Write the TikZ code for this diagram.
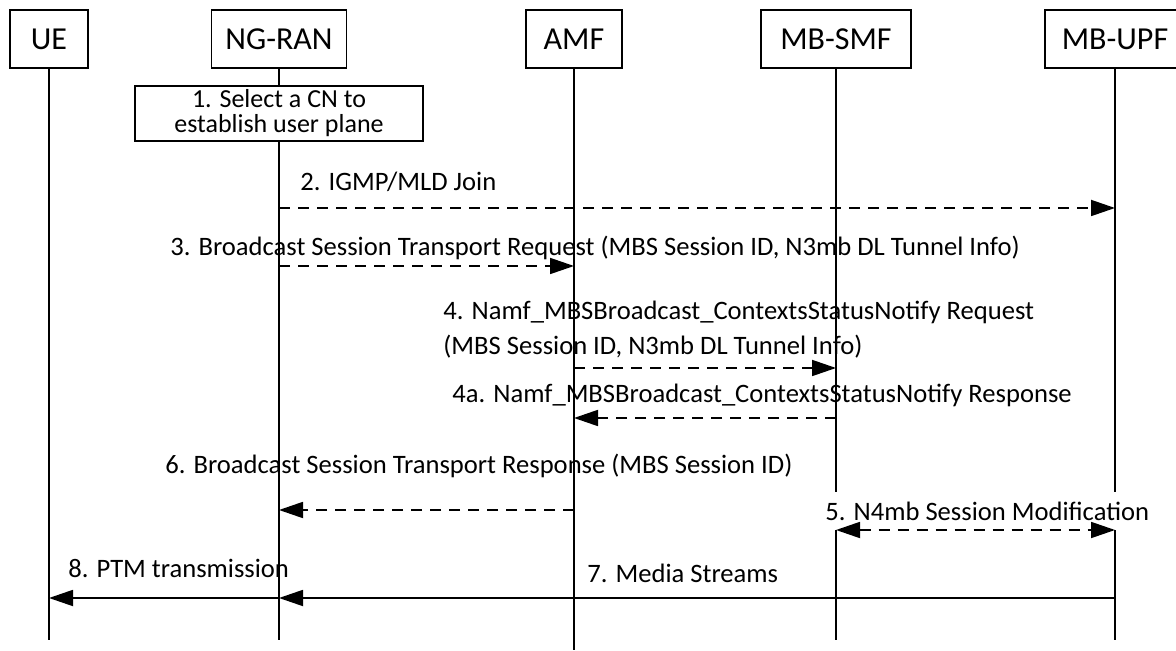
\documentclass[tikz,border=0pt]{standalone}
\usepackage{fontspec}
\setmainfont{Carlito}
\usetikzlibrary{positioning,arrows.meta}

\begin{document}
\begin{tikzpicture}[
        x=0.5pt, y=-0.5pt,
        >={Triangle[length=12pt,width=8pt]},
        entity/.style={
            draw,
            line width=0.9pt,
            minimum height=29pt,
            inner sep=0pt,
            font=\fontsize{16}{19}\selectfont
        },
        stepbox/.style={
            draw,
            fill=white,
            line width=0.9pt,
            minimum width=144pt,
            minimum height=27.5pt,
            inner sep=0pt,
            align=center,
            font=\fontsize{13}{12.5}\selectfont
        },
        life/.style={
            line width=0.9pt
        },
        msg/.style={
            ->,
            line width=0.9pt,
            dash pattern=on 5.5pt off 4pt
        },
        flow/.style={
            ->,
            line width=0.9pt
        },
        lbl/.style={
            anchor=west,
            inner sep=0pt,
            align=left,
            font=\fontsize{13.3}{17.5}\selectfont
        },
        node distance=8pt
    ]

    \fill[white] (0,0) rectangle (1176,651);
    \useasboundingbox (0,0) rectangle (1176,651);

    \node[entity, minimum width=39pt] (ue) at (49,39) {UE};
    \node[entity, minimum width=67.5pt] (ngran) at (279,39) {NG-RAN};
    \node[entity, minimum width=48pt] (amf) at (574,39) {AMF};
    \node[entity, minimum width=75pt] (smf) at (836,39) {MB-SMF};
    \node[entity, minimum width=70pt] (upf) at (1115,39) {MB-UPF};

    \coordinate (bottom) at (0,640);
    \coordinate (amfbottom) at (0,650);

    % Lifelines run down from every entity
    \foreach \n in {ue,ngran,smf,upf}
        \draw[life] (\n) -- (\n |- bottom);
    \draw[life] (amf) -- (amf |- amfbottom);

    \node[stepbox, below=of ngran] (s1) {1. Select a CN to\\establish user plane};

    \coordinate (m2) at (0,208);
    \coordinate (m3) at (0,266);
    \coordinate (m4) at (0,368);
    \coordinate (m4a) at (0,418);
    \coordinate (m6) at (0,510);
    \coordinate (m5) at (0,530);
    \coordinate (m7) at (0,598);

    \node[lbl] (l2) at (300,182) {2. IGMP/MLD Join};
    \node[lbl] (l3) at (170,248) {3. Broadcast Session Transport Request (MBS Session ID, N3mb DL Tunnel Info)};
    \node[lbl] (l4) at (443,330) {4. Namf\_MBSBroadcast\_ContextsStatusNotify Request\\(MBS Session ID, N3mb DL Tunnel Info)};
    \node[lbl] (l4a) at (452,395) {4a. Namf\_MBSBroadcast\_ContextsStatusNotify Response};
    \node[lbl] (l6) at (165,466) {6. Broadcast Session Transport Response (MBS Session ID)};
    \node[lbl, fill=white, minimum height=19pt, inner xsep=1pt] (l5) at (823,511) {5. N4mb Session Modification};
    \node[lbl] (l8) at (68,568) {8. PTM transmission};
    \node[lbl] (l7) at (587,573) {7. Media Streams};

    % Signalling is dashed, user plane traffic is solid
    \draw[msg] (ngran |- m2) -- (upf |- m2);
    \draw[msg] (ngran |- m3) -- (amf |- m3);
    \draw[msg] (amf |- m4) -- (smf |- m4);
    \draw[msg] (smf |- m4a) -- (amf |- m4a);
    \draw[msg] (amf |- m6) -- (ngran |- m6);
    \draw[msg, <->] (smf |- m5) -- (upf |- m5);
    \draw[flow] (upf |- m7) -- (ngran |- m7);
    \draw[flow] (ngran |- m7) -- (ue |- m7);

\end{tikzpicture}
\end{document}
